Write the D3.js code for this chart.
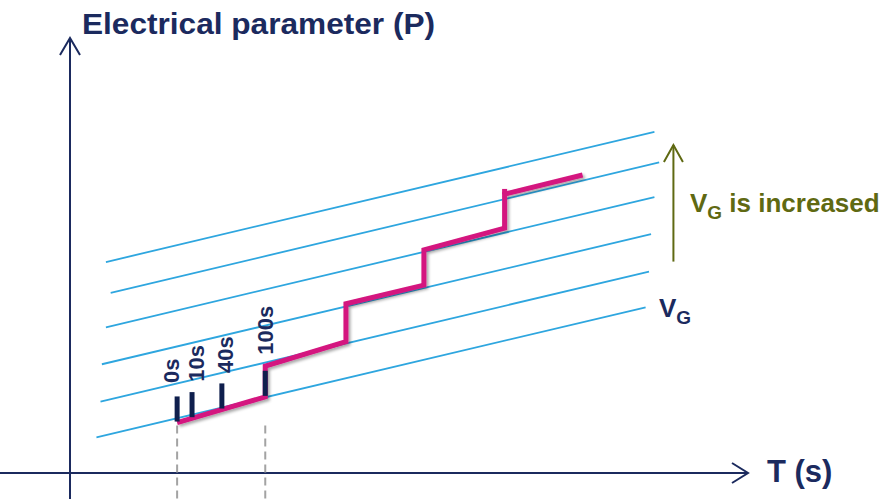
<!DOCTYPE html>
<html>
<head>
<meta charset="utf-8">
<script src="https://cdn.jsdelivr.net/npm/d3@7"></script>
<style>
  html, body { margin: 0; padding: 0; background: #fff; }
  svg { display: block; font-family: "Liberation Sans", Arial, sans-serif; }
</style>
</head>
<body>
<div id="chart"></div>
<script>
// Schematic units: T and P both run 0..100 along the drawn axes
const NAVY = "#1b2a5e";
const BLUE = "#2ea6df";
const PINK = "#d4147f";
const OLIVE = "#5f6912";

// V_G family of lines (T start, P start, T end, P end)
const vgT0 = [5.3, 6.0, 5.3, 4.7, 4.5, 3.9];
const vgP0 = [48.5, 41.4, 33.5, 25.0, 16.4, 8.2];
const vgT1 = [86.2, 86.9, 86.2, 85.7, 85.4, 84.9];
const vgP1 = [78.4, 71.4, 63.4, 54.9, 46.3, 38.1];

// measured step path
const stepT = [15.8, 28.8, 28.8, 40.7, 40.7, 52.2, 52.2, 64.1, 64.1, 75.6];
const stepP = [11.6, 17.5, 24.6, 30.2, 38.9, 43.2, 51.3, 56.3, 64.1, 68.5];
const overshootP = 65.3; // last vertical pokes slightly above the joint

// time markers
const markLabels = ["0s", "10s", "40s", "100s"];
const markT = [15.8, 18.0, 22.4, 28.8];
const markLen = 6.0;
const labelT = [16.1, 19.7, 24.1, 30.0];
const labelP = [20.7, 21.0, 23.0, 27.2];

const dashedT = [15.8, 28.8];

const W = 881, H = 499;
const x = d3.scaleLinear().domain([0, 100]).range([70, 748]);
const y = d3.scaleLinear().domain([0, 100]).range([473, 38]);

const svg = d3.select("#chart").append("svg")
  .attr("width", W).attr("height", H);

const defs = svg.append("defs");
const f = defs.append("filter").attr("id", "shadow")
  .attr("x", "-10%").attr("y", "-10%").attr("width", "130%").attr("height", "130%");
f.append("feDropShadow").attr("dx", 2).attr("dy", 2).attr("stdDeviation", 1.5)
  .attr("flood-color", "#000").attr("flood-opacity", 0.35);

// axes
svg.append("line").attr("x1", x(0)).attr("x2", x(0)).attr("y1", y(100)).attr("y2", H)
  .attr("stroke", NAVY).attr("stroke-width", 2);
svg.append("line").attr("x1", 0).attr("x2", x(100)).attr("y1", y(0)).attr("y2", y(0))
  .attr("stroke", NAVY).attr("stroke-width", 2);
svg.append("path")
  .attr("d", `M${x(0) - 10},${y(100) + 17} L${x(0)},${y(100)} L${x(0) + 10},${y(100) + 17}`)
  .attr("fill", "none").attr("stroke", NAVY).attr("stroke-width", 2);
svg.append("path")
  .attr("d", `M${x(100) - 16},${y(0) - 10} L${x(100)},${y(0)} L${x(100) - 16},${y(0) + 10}`)
  .attr("fill", "none").attr("stroke", NAVY).attr("stroke-width", 2);

svg.append("text").attr("x", 82).attr("y", 34)
  .attr("font-size", 30).attr("font-weight", 700).attr("fill", NAVY)
  .attr("textLength", 353).attr("lengthAdjust", "spacingAndGlyphs")
  .text("Electrical parameter (P)");
svg.append("text").attr("x", 767).attr("y", 482)
  .attr("font-size", 31).attr("font-weight", 700).attr("fill", NAVY)
  .text("T (s)");

// dashed guides
svg.selectAll("line.guide").data(dashedT).enter().append("line")
  .attr("class", "guide")
  .attr("x1", d => x(d)).attr("x2", d => x(d))
  .attr("y1", y(stepP[0]) + 3).attr("y2", H)
  .attr("stroke", "#a3a3a3").attr("stroke-width", 2)
  .attr("stroke-dasharray", "8,5");

// V_G lines
svg.selectAll("line.vg").data(vgT0).enter().append("line")
  .attr("class", "vg")
  .attr("x1", (d, i) => x(vgT0[i])).attr("y1", (d, i) => y(vgP0[i]))
  .attr("x2", (d, i) => x(vgT1[i])).attr("y2", (d, i) => y(vgP1[i]))
  .attr("stroke", BLUE).attr("stroke-width", 1.8);

// step path
const pts = stepT.map((t, i) => [x(t), y(stepP[i])]);
const shadowG = svg.append("g").attr("filter", "url(#shadow)");
shadowG.append("path")
  .attr("d", d3.line()(pts))
  .attr("fill", "none").attr("stroke", PINK).attr("stroke-width", 5)
  .attr("stroke-linejoin", "miter");
shadowG.append("line")
  .attr("x1", x(stepT[8])).attr("x2", x(stepT[8]))
  .attr("y1", y(stepP[8])).attr("y2", y(overshootP))
  .attr("stroke", PINK).attr("stroke-width", 5);

// markers sit on the first step segment
const seg = d3.scaleLinear().domain([stepT[0], stepT[1]]).range([stepP[0], stepP[1]]);
svg.selectAll("line.mark").data(markT).enter().append("line")
  .attr("class", "mark")
  .attr("x1", d => x(d)).attr("x2", d => x(d))
  .attr("y1", d => y(seg(d)) - 1).attr("y2", d => y(seg(d) + markLen))
  .attr("stroke", "#0f1f4d").attr("stroke-width", 5);

svg.selectAll("text.mlab").data(markLabels).enter().append("text")
  .attr("class", "mlab")
  .attr("transform", (d, i) => `translate(${x(labelT[i])},${y(labelP[i])}) rotate(-90)`)
  .attr("font-size", 22).attr("font-weight", 700).attr("fill", NAVY)
  .text(d => d);

// V_G label at the lowest line
const vg = svg.append("text").attr("x", 659).attr("y", 317)
  .attr("font-size", 26).attr("font-weight", 700).attr("fill", NAVY);
vg.append("tspan").text("V");
vg.append("tspan").attr("dy", 6.5).attr("font-size", 19).text("G");

// increase arrow
const arrT = 89.0, arrP0 = 48.6, arrP1 = 75.4;
svg.append("line").attr("x1", x(arrT)).attr("x2", x(arrT))
  .attr("y1", y(arrP0)).attr("y2", y(arrP1))
  .attr("stroke", OLIVE).attr("stroke-width", 2);
svg.append("path")
  .attr("d", `M${x(arrT) - 9.5},${y(arrP1) + 17} L${x(arrT)},${y(arrP1)} L${x(arrT) + 9.5},${y(arrP1) + 17}`)
  .attr("fill", "none").attr("stroke", OLIVE).attr("stroke-width", 2);

const inc = svg.append("text").attr("x", 690).attr("y", 212)
  .attr("font-size", 26).attr("font-weight", 700).attr("fill", OLIVE);
inc.append("tspan").text("V");
inc.append("tspan").attr("dy", 6.5).attr("font-size", 19).text("G");
inc.append("tspan").attr("dy", -6.5).text(" is increased");
</script>
</body>
</html>
